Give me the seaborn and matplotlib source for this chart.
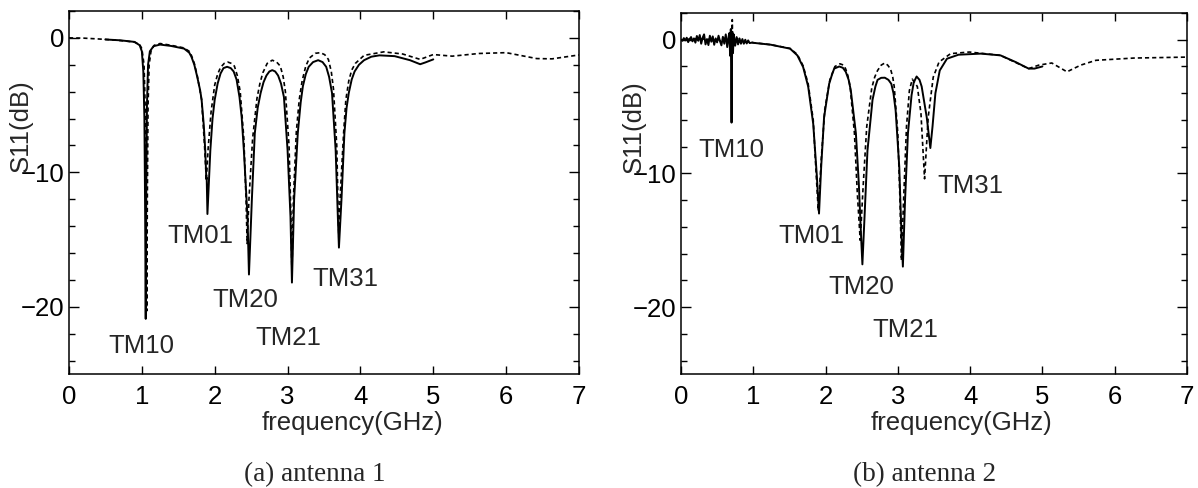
import matplotlib
matplotlib.use("Agg")
import matplotlib.pyplot as plt
from matplotlib.ticker import MultipleLocator
import seaborn as sns

# antenna 1, measured (solid)
f1_meas = [0.5, 0.7, 0.9, 0.97, 1.0, 1.02, 1.035, 1.045, 1.053, 1.06, 1.07, 1.085, 1.11, 1.16, 1.25,
           1.4, 1.58, 1.65, 1.68, 1.72, 1.76, 1.80, 1.82, 1.85, 1.87, 1.885, 1.89, 1.90, 1.94, 1.97,
           2.0, 2.04, 2.08, 2.12, 2.17, 2.22, 2.26, 2.30, 2.34, 2.37,
           2.40, 2.45, 2.47, 2.51, 2.55, 2.59, 2.63, 2.67, 2.71, 2.75, 2.79, 2.83, 2.87, 2.91, 2.95,
           3.0, 3.04, 3.06, 3.09, 3.14, 3.18,
           3.21, 3.25, 3.29, 3.35, 3.42, 3.48, 3.53, 3.57, 3.61, 3.66, 3.69, 3.705, 3.74, 3.78, 3.81,
           3.84, 3.88, 3.92, 3.98, 4.05, 4.15, 4.26, 4.47, 4.68, 4.82, 4.89, 5.0]
s1_meas = [-0.12, -0.18, -0.3, -0.55, -1.0, -2.5, -6.0, -13.0, -20.9, -12.0, -5.0, -2.0, -1.0, -0.62, -0.5,
           -0.6, -0.8, -1.1, -1.4, -2.0, -2.9, -3.9, -4.6, -6.5, -8.35, -10.5, -10.4, -13.1, -8.35, -6.0,
           -4.6, -3.4, -2.65, -2.25, -2.15, -2.25, -2.5, -3.1, -4.4, -5.9,
           -8.35, -13.3, -17.6, -12.0, -7.1, -5.2, -4.1, -3.3, -2.8, -2.5, -2.4, -2.5, -2.8, -3.4, -4.4,
           -8.35, -13.3, -18.2, -12.0, -7.1, -4.8,
           -3.6, -2.7, -2.15, -1.8, -1.66, -1.8, -2.15, -2.9, -4.1, -8.35, -13.3, -15.6, -12.0, -7.1, -5.2,
           -4.1, -3.1, -2.5, -2.0, -1.66, -1.4, -1.3, -1.36, -1.66, -1.96, -1.83, -1.6]

# antenna 1, simulated (dashed)
f1_sim = [0.0, 0.2, 0.4, 0.6, 0.8, 0.9, 0.97, 1.0, 1.03, 1.05, 1.06, 1.068, 1.075, 1.085, 1.10, 1.125,
          1.17, 1.25, 1.4, 1.58, 1.65, 1.68, 1.72, 1.76, 1.82, 1.86, 1.885, 1.91, 1.95, 2.0, 2.04,
          2.08, 2.13, 2.18, 2.23, 2.27, 2.31, 2.35,
          2.40, 2.43, 2.445, 2.47, 2.52, 2.58, 2.62, 2.66, 2.72, 2.79, 2.85, 2.90, 2.94, 2.97,
          3.02, 3.045, 3.06, 3.08, 3.12, 3.16,
          3.2, 3.25, 3.3, 3.38, 3.45, 3.51, 3.56, 3.6, 3.63, 3.675, 3.695, 3.705, 3.72, 3.77, 3.80,
          3.84, 3.88, 3.93, 4.05, 4.32, 4.58,
          4.82, 5.0, 5.26, 5.63, 6.0, 6.42, 6.63, 7.0]
s1_sim = [0.0, -0.02, -0.08, -0.15, -0.25, -0.32, -0.5, -0.8, -2.0, -6.0, -13.0, -20.3, -12.0, -5.0, -2.0, -1.0,
          -0.55, -0.42, -0.55, -0.75, -1.0, -1.3, -1.9, -2.8, -4.6, -8.0, -10.6, -8.2, -5.5, -3.5, -2.7,
          -2.2, -1.9, -1.8, -1.9, -2.1, -2.8, -4.0,
          -7.5, -12.0, -15.3, -12.0, -7.5, -4.5, -3.4, -2.6, -1.9, -1.66, -1.8, -2.1, -2.9, -4.0,
          -8.0, -13.0, -17.5, -12.0, -7.0, -4.6,
          -3.2, -2.1, -1.5, -1.15, -1.1, -1.25, -1.6, -2.5, -3.8, -8.0, -13.0, -15.2, -12.0, -7.0, -4.6,
          -3.2, -2.4, -1.9, -1.3, -1.04, -1.2,
          -1.6, -1.24, -1.36, -1.16, -1.1, -1.54, -1.56, -1.27]

# antenna 2, measured (solid)
f2_meas = [0.00, 0.02, 0.04, 0.06, 0.08, 0.10, 0.12, 0.14, 0.16, 0.18, 0.20, 0.22, 0.24, 0.26, 0.28,
           0.30, 0.32, 0.34, 0.36, 0.38, 0.40, 0.42, 0.44, 0.46, 0.48, 0.50, 0.52, 0.54, 0.56, 0.58,
           0.60, 0.62, 0.64, 0.66, 0.67, 0.68, 0.69, 0.695, 0.70, 0.705, 0.71, 0.72, 0.73, 0.75, 0.77,
           0.79, 0.81, 0.83, 0.85, 0.87, 0.89, 0.91, 0.93, 0.95, 0.98, 1.24, 1.51, 1.61, 1.69, 1.76,
           1.83, 1.88, 1.91, 1.94, 1.98, 2.05, 2.09, 2.12, 2.19, 2.24, 2.28, 2.32, 2.35,
           2.42, 2.46, 2.49, 2.51, 2.54,
           2.58, 2.65, 2.69, 2.72, 2.77, 2.82, 2.87, 2.91, 2.94, 2.97, 3.02, 3.05, 3.07, 3.10, 3.14,
           3.19, 3.22, 3.26, 3.30, 3.33, 3.40,
           3.45, 3.48, 3.52, 3.58, 3.68, 3.84, 4.15, 4.42, 4.63, 4.81, 4.89, 5.0]
s2_meas = [0.00, -0.08, 0.12, -0.05, 0.15, -0.18, 0.05, 0.20, -0.12, 0.10, -0.22, 0.28, -0.08, 0.35, -0.30,
           0.15, 0.40, -0.35, 0.05, -0.40, 0.30, -0.15, 0.25, -0.38, 0.10, -0.20, 0.30, -0.10, -0.42, 0.22,
           -0.30, 0.40, -0.55, 0.25, 0.5, -1.2, 0.8, -3.0, -6.2, -2.5, 0.6, -1.0, 0.4, -0.45, 0.20,
           -0.35, 0.10, -0.30, 0.05, -0.30, 0.0, -0.28, -0.05, -0.25, -0.22, -0.37, -0.67, -1.17, -2.04, -3.5,
           -6.3, -10.2, -13.0, -9.5, -5.8, -3.3, -2.6, -2.16, -2.0, -2.1, -2.4, -3.0, -3.8,
           -7.0, -10.7, -14.5, -16.8, -13.2,
           -8.3, -4.5, -3.5, -3.0, -2.85, -2.84, -3.0, -3.3, -4.0, -5.3, -9.5, -14.5, -16.97, -12.0, -7.0,
           -4.15, -3.2, -2.75, -3.0, -3.5, -5.8,
           -8.1, -6.5, -4.0, -2.3, -1.42, -1.12, -1.04, -1.17, -1.67, -2.16, -2.16, -2.0]

# antenna 2, simulated (dashed)
f2_sim = [0.00, 0.05, 0.10, 0.15, 0.20, 0.25, 0.30, 0.35, 0.40, 0.45, 0.50, 0.55, 0.60, 0.64, 0.67,
          0.69, 0.70, 0.705, 0.71, 0.715, 0.72, 0.74, 0.78, 0.82, 0.86, 0.90, 0.95, 1.0, 1.24, 1.51,
          1.61, 1.69, 1.76, 1.83, 1.87, 1.90, 1.94, 1.99, 2.06, 2.13, 2.20, 2.25, 2.28, 2.31, 2.34,
          2.40, 2.44, 2.48, 2.52, 2.57, 2.64, 2.68, 2.72, 2.77, 2.82, 2.86, 2.90, 2.93, 2.95,
          3.0, 3.03, 3.05, 3.08, 3.12, 3.16, 3.20,
          3.27, 3.32, 3.37, 3.42, 3.49, 3.57, 3.73, 3.99, 4.42, 4.81, 4.95, 5.13, 5.34, 5.53, 5.74,
          6.27, 7.0]
s2_sim = [0.0, -0.03, 0.05, -0.05, 0.08, -0.08, 0.10, -0.12, 0.10, -0.10, 0.10, -0.12, 0.12, -0.20, 0.30,
          -0.8, 0.5, -2.2, 1.5, -1.0, 0.3, -0.3, 0.1, -0.2, 0.0, -0.2, -0.15, -0.22, -0.37, -0.65,
          -1.1, -1.95, -3.3, -6.0, -10.0, -12.8, -9.0, -5.2, -3.0, -2.0, -1.8, -1.9, -2.2, -2.7, -3.5,
          -7.0, -11.5, -15.0, -11.0, -6.5, -3.6, -2.8, -2.3, -1.9, -1.74, -1.9, -2.2, -2.8, -3.5,
          -7.0, -12.0, -16.5, -12.0, -6.5, -3.8, -2.95,
          -3.5, -5.5, -10.4, -5.8, -2.8, -1.67, -1.04, -0.92, -1.17, -2.16, -1.9, -1.74, -2.4, -1.9, -1.54,
          -1.37, -1.3]

modes = ["TM10", "TM01", "TM20", "TM21", "TM31"]
mode_x1 = [1.0, 1.80, 2.42, 3.01, 3.80]
mode_y1 = [-22.9, -14.7, -19.5, -22.3, -17.9]
mode_x2 = [0.70, 1.81, 2.50, 3.11, 4.0]
mode_y2 = [-8.26, -14.65, -18.46, -21.7, -10.95]

captions = ["(a) antenna 1", "(b) antenna 2"]

sns.set_theme(style="ticks")
plt.rcParams["font.family"] = ["Liberation Sans", "DejaVu Sans"]

fs_txt = 18.5

fig = plt.figure(figsize=(11.98, 4.88), dpi=100)
ax1 = fig.add_axes([0.0576, 0.2336, 0.4257, 0.7439])
ax2 = fig.add_axes([0.5684, 0.2336, 0.4224, 0.7398])

panels = [
    (ax1, f1_meas, s1_meas, f1_sim, s1_sim, mode_x1, mode_y1),
    (ax2, f2_meas, s2_meas, f2_sim, s2_sim, mode_x2, mode_y2),
]

for ax, fm, sm, fs, ss, mx, my in panels:
    sns.lineplot(x=fs, y=ss, ax=ax, color="black", lw=1.2, linestyle=(0, (2.5, 1.8)),
                 sort=False, estimator=None)
    sns.lineplot(x=fm, y=sm, ax=ax, color="black", lw=1.4, sort=False, estimator=None)

    for name, x, y in zip(modes, mx, my):
        ax.text(x, y, name, ha="center", va="center", fontsize=fs_txt)

    ax.set_xlim(0, 7)
    ax.set_ylim(-25, 2)
    ax.xaxis.set_major_locator(MultipleLocator(1))
    ax.yaxis.set_major_locator(MultipleLocator(10))
    ax.yaxis.set_minor_locator(MultipleLocator(2))
    ax.tick_params(which="both", direction="in", top=True, right=True, colors="black",
                   labelsize=fs_txt, width=1.0)
    ax.tick_params(axis="x", which="major", length=6, pad=8)
    ax.tick_params(axis="y", which="major", length=7, pad=3)
    ax.tick_params(axis="y", which="minor", length=4)
    for sp in ax.spines.values():
        sp.set_linewidth(1.1)
        sp.set_color("black")

    ax.set_xlabel("frequency(GHz)", fontsize=fs_txt, va="center")
    ax.xaxis.set_label_coords(0.555, -0.135)
    ax.set_ylabel("S11(dB)", fontsize=fs_txt, va="center")
    ax.yaxis.set_label_coords(-0.094, 0.685)

fig.text(0.2625, 0.028, captions[0], ha="center", va="center", fontsize=19.5,
         family=["Liberation Serif", "DejaVu Serif"])
fig.text(0.772, 0.028, captions[1], ha="center", va="center", fontsize=19.5,
         family=["Liberation Serif", "DejaVu Serif"])

fig.savefig("out.png", dpi=100)
